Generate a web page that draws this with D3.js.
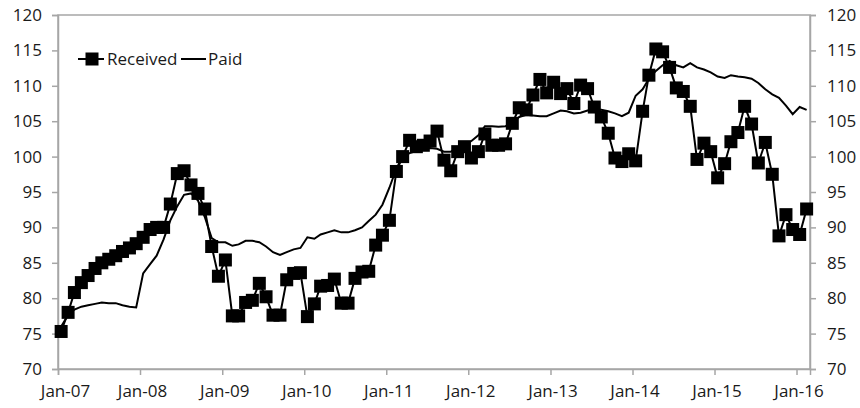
<!DOCTYPE html>
<html><head><meta charset="utf-8">
<script src="https://cdn.jsdelivr.net/npm/d3@7"></script>
<style>html,body{margin:0;padding:0;background:#fff;}svg{display:block;font-family:"Open Sans",sans-serif;}</style>
</head><body><svg id="c" width="860" height="408"></svg>
<script>
const xTickLabels = ["Jan-07","Jan-08","Jan-09","Jan-10","Jan-11","Jan-12","Jan-13","Jan-14","Jan-15","Jan-16"];
const yTicks = [70,75,80,85,90,95,100,105,110,115,120];
const seriesNames = ["Received","Paid"];
// monthly values Jan-07 .. Feb-16
const received = [
 75.3,78.0,80.8,82.2,83.2,84.2,85.0,85.5,86.0,86.6,87.1,87.7,
 88.6,89.7,90.0,90.0,93.3,97.6,98.0,96.0,94.8,92.6,87.3,83.1,
 85.4,77.5,77.5,79.4,79.7,82.1,80.2,77.6,77.6,82.6,83.5,83.6,
 77.4,79.2,81.7,81.8,82.7,79.3,79.3,82.8,83.7,83.8,87.5,88.9,
 91.0,97.9,100.0,102.3,101.4,101.6,102.2,103.6,99.5,98.0,100.7,101.4,
 99.8,100.7,103.2,101.6,101.6,101.8,104.7,106.9,106.6,108.7,110.9,109.0,
 110.5,108.9,109.6,107.5,110.1,109.6,107.0,105.6,103.3,99.8,99.3,100.4,
 99.4,106.4,111.5,115.2,114.8,112.6,109.7,109.2,107.1,99.6,101.9,100.7,
 97.0,99.0,102.1,103.4,107.1,104.6,99.1,102.0,97.5,88.8,91.8,89.7,
 89.0,92.6
];
const paid = [
 76.0,77.6,78.4,78.8,79.0,79.2,79.4,79.3,79.3,79.0,78.8,78.7,
 83.5,84.8,86.0,88.3,91.0,93.0,94.6,94.8,93.8,91.5,88.5,87.9,
 87.9,87.4,87.6,88.1,88.1,87.9,87.3,86.5,86.1,86.5,86.9,87.1,
 88.6,88.4,89.0,89.3,89.6,89.3,89.3,89.6,90.0,90.9,91.8,93.2,
 95.6,98.3,100.0,100.5,100.8,101.0,101.2,101.1,100.7,100.7,101.2,101.6,
 102.2,103.0,104.3,104.3,104.2,104.3,104.8,105.6,105.9,105.8,105.7,105.7,
 106.1,106.5,106.4,106.1,106.2,106.5,106.6,106.6,106.4,106.1,105.7,106.2,
 108.6,109.5,111.0,112.1,112.9,113.5,112.9,112.6,113.2,112.6,112.3,111.9,
 111.3,111.1,111.5,111.3,111.2,111.0,110.4,109.5,108.8,108.3,107.2,106.0,
 107.0,106.6
];
const months = d3.timeMonth.range(new Date(2007,0,1), new Date(2016,2,1));

const svg = d3.select("#c");
const L=58, R=810, T=15, B=369;
const x = d3.scaleTime().domain([new Date(2007,0,1), new Date(2016,2,1)]).range([L,R]);
const y = d3.scaleLinear().domain([70,120]).range([B,T]);
const xd = (i)=> x(d3.timeDay.offset(months[i],14));
const tickDates = xTickLabels.map((_,i)=>new Date(2007+i,0,1));

// frame
svg.append("rect").attr("x",L).attr("y",T).attr("width",R-L).attr("height",B-T)
  .attr("fill","none").attr("stroke","#a6a6a6").attr("stroke-width",1.5);

const fmtX = (d)=> xTickLabels[tickDates.findIndex(t=>+t===+d)];
const gx = svg.append("g").attr("transform",`translate(0,${B})`)
  .call(d3.axisBottom(x).tickValues(tickDates).tickFormat(fmtX).tickSize(6).tickPadding(10));
const gyl = svg.append("g").attr("transform",`translate(${L},0)`)
  .call(d3.axisLeft(y).tickValues(yTicks).tickSize(6).tickPadding(10));
const gyr = svg.append("g").attr("transform",`translate(${R},0)`)
  .call(d3.axisRight(y).tickValues(yTicks).tickSize(6).tickPadding(11));
[gx,gyl,gyr].forEach(g=>{
  g.select(".domain").attr("stroke","#a6a6a6").attr("stroke-width",1.5);
  g.selectAll(".tick line").attr("stroke","#a6a6a6").attr("stroke-width",1.5);
  g.selectAll("text").attr("font-family","Open Sans").attr("font-size",17).attr("fill","#1a1a1a");
});
gx.selectAll(".tick text").attr("dx",(d,i)=> i===0 ? 7 : 2);

const line = (arr)=> d3.line().x((d,i)=>xd(i)).y(d=>y(d))(arr);
svg.append("path").attr("d",line(paid)).attr("fill","none").attr("stroke","#000").attr("stroke-width",2);
svg.append("path").attr("d",line(received)).attr("fill","none").attr("stroke","#000").attr("stroke-width",2);
const ms=13;
svg.append("g").selectAll("rect").data(received).join("rect")
  .attr("x",(d,i)=>xd(i)-ms/2).attr("y",d=>y(d)-ms/2).attr("width",ms).attr("height",ms).attr("fill","#000");

// legend
const lg = svg.append("g");
lg.append("line").attr("x1",78).attr("x2",104).attr("y1",59).attr("y2",59).attr("stroke","#000").attr("stroke-width",2);
lg.append("rect").attr("x",92-ms/2).attr("y",59-ms/2).attr("width",ms).attr("height",ms).attr("fill","#000");
lg.append("text").attr("x",107).attr("y",65).attr("font-size",17).attr("fill","#1a1a1a").text(seriesNames[0]);
lg.append("line").attr("x1",181).attr("x2",206).attr("y1",59).attr("y2",59).attr("stroke","#000").attr("stroke-width",2);
lg.append("text").attr("x",208).attr("y",65).attr("font-size",17).attr("fill","#1a1a1a").text(seriesNames[1]);
</script></body></html>
